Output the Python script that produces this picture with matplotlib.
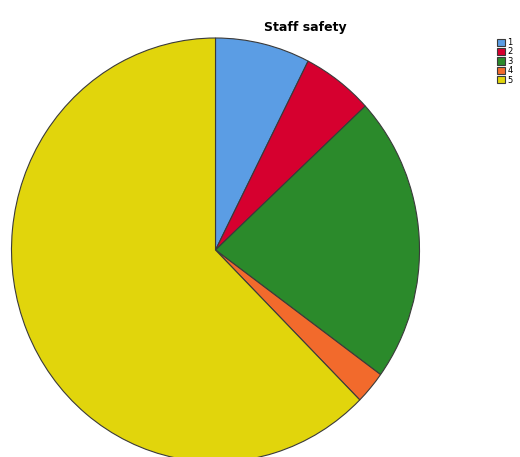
import matplotlib
matplotlib.use("Agg")
import matplotlib.pyplot as plt

# Staff safety responses (1-5)
labels = ["1", "2", "3", "4", "5"]
counts = [12, 9, 35, 4, 100]
colors = ["#5b9de4", "#d6002f", "#2b8a2b", "#f26a2c", "#e1d50c"]

fig = plt.figure(figsize=(5.2, 4.57), dpi=100)
# pie area sized in pixels so the ellipse sits like the original
ax = fig.add_axes([11.5 / 520, -5 / 457, 408 / 520, 424 / 457])

wedges, _ = ax.pie(counts, colors=colors, startangle=90, counterclock=False,
                   radius=1.0,
                   wedgeprops=dict(edgecolor="#3a3a3a", linewidth=0.8))
ax.set_aspect("auto")
ax.set_xlim(-1, 1)
ax.set_ylim(-1, 1)
ax.axis("off")

fig.text(305 / 520, 1 - 27 / 457, "Staff safety", ha="center", va="center",
         fontsize=9, fontweight="bold")

fig.legend(wedges, labels, loc="upper left",
           bbox_to_anchor=(497 / 520, 1 - 38 / 457),
           frameon=False, fontsize=6, handlelength=0.95, handleheight=0.95,
           labelspacing=0.05, handletextpad=0.3, borderpad=0, borderaxespad=0)

fig.savefig("out.png", dpi=100)
